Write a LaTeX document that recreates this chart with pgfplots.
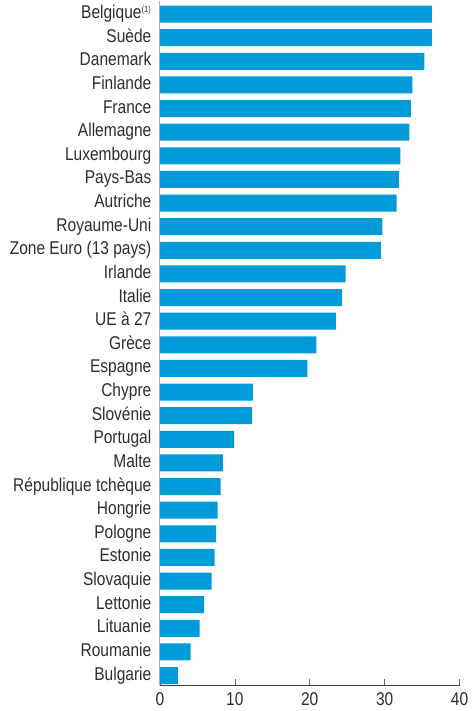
\documentclass[border=0pt]{standalone}
\usepackage{fontspec}
\setmainfont{Liberation Sans}[FakeStretch=0.84]
\usepackage{pgfplots}
\pgfplotsset{compat=1.18}
\definecolor{barblue}{RGB}{0,155,216}
\definecolor{labgray}{RGB}{45,45,45}

\begin{document}
\begin{tikzpicture}
\begin{axis}[
    name=ax,
    scale only axis,
    width=300pt, height=685pt,
    xbar, bar width=17pt,
    xmin=0, xmax=40,
    ymin=-0.571, ymax=28.40,
    y dir=reverse,
    axis x line=bottom, axis y line=left,
    x axis line style={-, draw=black!75, line width=0.8pt},
    y axis line style={-, draw=black!30, line width=1.2pt},
    xtick={0,10,20,30,40},
    xtick style={draw=black!60, line width=0.6pt},
    major tick length=6pt,
    tick align=inside,
    ytick=data,
    ytick style={draw=none},
    yticklabels={Belgique\textsuperscript{\fontsize{9}{9}\selectfont(1)},Suède,Danemark,Finlande,France,Allemagne,Luxembourg,Pays-Bas,Autriche,Royaume-Uni,Zone Euro (13 pays),Irlande,Italie,UE à 27,Grèce,Espagne,Chypre,Slovénie,Portugal,Malte,République tchèque,Hongrie,Pologne,Estonie,Slovaquie,Lettonie,Lituanie,Roumanie,Bulgarie},
    tick label style={font=\fontsize{18.5}{20}\selectfont, text=labgray},
    yticklabel style={xshift=-5pt, text height=13pt, text depth=4pt},
    xticklabel style={yshift=-4pt},
    /pgf/number format/assume math mode=true,
    clip=false,
]
\addplot[fill=barblue, draw=none] coordinates {
    (36.3,0) (36.3,1) (35.3,2) (33.7,3) (33.5,4) (33.3,5) (32.1,6) (31.9,7) (31.6,8)
    (29.7,9) (29.5,10) (24.8,11) (24.3,12) (23.5,13) (20.9,14) (19.7,15)
    (12.4,16) (12.3,17) (9.9,18) (8.4,19) (8.1,20) (7.7,21) (7.5,22) (7.3,23)
    (6.9,24) (5.9,25) (5.3,26) (4.1,27) (2.4,28)
};
\end{axis}
\useasboundingbox ([xshift=-160pt,yshift=-26pt]ax.south west) rectangle ([xshift=5pt]ax.north east);
\end{tikzpicture}
\end{document}
